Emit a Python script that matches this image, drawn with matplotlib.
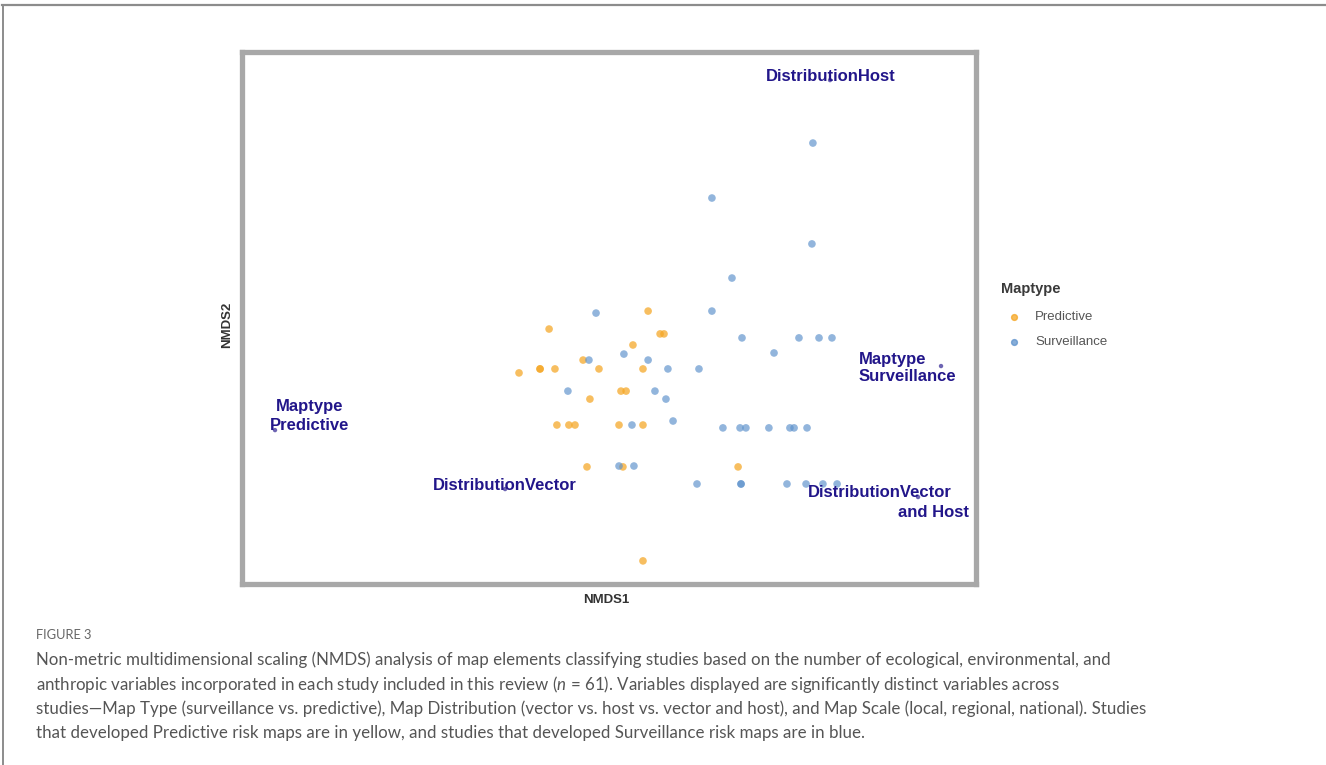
import matplotlib
matplotlib.use("Agg")
import matplotlib.pyplot as plt
from matplotlib.lines import Line2D

plt.rcParams["font.family"] = ["Liberation Sans", "DejaVu Sans"]
plt.rcParams["mathtext.fontset"] = "custom"
plt.rcParams["mathtext.rm"] = "Lato"
plt.rcParams["mathtext.it"] = "Lato:italic"

# NMDS site scores, by map type
pred_x = [0.161, -0.244, 0.210, 0.226, 0.099, -0.105, -0.367, -0.281, -0.281,
          -0.220, -0.040, 0.140, 0.050, 0.071, -0.077, -0.212, -0.163, -0.138,
          0.042, 0.140, -0.089, 0.058, 0.529, 0.140]
pred_y = [0.029, -0.052, -0.074, -0.074, -0.124, -0.192, -0.250, -0.232, -0.232,
          -0.232, -0.232, -0.232, -0.332, -0.332, -0.368, -0.485, -0.485, -0.485,
          -0.485, -0.485, -0.674, -0.674, -0.674, -1.098]

surv_x = [0.835, 0.422, 0.831, 0.504, 0.422, -0.052, 0.545, 0.778, 0.860, 0.913,
          0.676, -0.081, 0.062, 0.161, 0.242, 0.369, -0.167, 0.189, 0.234, 0.263,
          0.095, 0.467, 0.537, 0.561, 0.655, 0.741, 0.758, 0.811, 0.042, 0.103,
          0.361, 0.541, 0.541, 0.729, 0.807, 0.876, 0.934]
surv_y = [0.787, 0.539, 0.332, 0.178, 0.029, 0.020, -0.092, -0.092, -0.092, -0.092,
          -0.160, -0.192, -0.165, -0.192, -0.232, -0.232, -0.332, -0.332, -0.368, -0.467,
          -0.485, -0.498, -0.498, -0.498, -0.498, -0.498, -0.498, -0.498, -0.670, -0.670,
          -0.751, -0.751, -0.751, -0.751, -0.751, -0.751, -0.751]

# Fitted factor centroids (envfit)
factor_names = ["DistributionHost", "Maptype\nSurveillance", "Maptype\nPredictive",
                "DistributionVector", "DistributionVector\nand Host"]
factor_x = [0.905, 1.359, -1.365, -0.424, 1.265]
factor_y = [1.071, -0.219, -0.508, -0.774, -0.810]

legend_title = "Maptype"
legend_labels = ["Predictive", "Surveillance"]

caption_head = "FIGURE 3"
caption_lines = [
    "Non-metric multidimensional scaling (NMDS) analysis of map elements classifying studies based on the number of ecological, environmental, and",
    "anthropic variables incorporated in each study included in this review ($n$ = 61). Variables displayed are significantly distinct variables across",
    "studies\u2014Map Type (surveillance vs. predictive), Map Distribution (vector vs. host vs. vector and host), and Map Scale (local, regional, national). Studies",
    "that developed Predictive risk maps are in yellow, and studies that developed Surveillance risk maps are in blue.",
]

W, H = 1326, 765
fig = plt.figure(figsize=(W / 100, H / 100), dpi=100)
fig.patch.set_facecolor("white")

ax = fig.add_axes([242 / W, 1 - 583.5 / H, 733.5 / W, 532 / H])
ax.set_xlim(-1.5, 1.5)
ax.set_ylim(-1.2, 1.2)
ax.set_xticks([])
ax.set_yticks([])
for sp in ax.spines.values():
    sp.set_linewidth(3.8)
    sp.set_color("#a8a8a8")

c_pred = "#F5A623"
c_surv = "#5E92CC"
ax.scatter(pred_x, pred_y, s=30, color=c_pred, alpha=0.72, edgecolors="none", zorder=3)
ax.scatter(surv_x, surv_y, s=30, color=c_surv, alpha=0.68, edgecolors="none", zorder=3)

navy = "#22168a"
ax.scatter(factor_x, factor_y, s=10, color="#4a3fa0", alpha=0.8, edgecolors="none", zorder=4)

# label placement: (offset px, ha) per line
placements = [
    [("DistributionHost", (1, 4), "center")],
    [("Maptype", (-82, 7), "left"), ("Surveillance", (-82, -10), "left")],
    [("Maptype", (1, 24), "left"), ("Predictive", (-5, 5), "left")],
    [("DistributionVector", (0, 4), "center")],
    [("DistributionVector", (-38, 5), "center"), ("and Host", (15, -15), "center")],
]
for (fx, fy), items in zip(zip(factor_x, factor_y), placements):
    for txt, (dx, dy), ha in items:
        ax.annotate(txt, xy=(fx, fy), xytext=(dx, dy), textcoords="offset pixels",
                    ha=ha, va="center", fontsize=12, fontweight="bold",
                    color=navy, zorder=5)

fig.text(606 / W, 1 - 600 / H, "NMDS1", ha="center", va="center",
         fontsize=9.5, fontweight="bold", color="#333333")
fig.text(227 / W, 1 - 325 / H, "NMDS2", ha="center", va="center", rotation=90,
         fontsize=9.5, fontweight="bold", color="#333333")

# legend
fig.text(1001 / W, 1 - 289 / H, legend_title, ha="left", va="center",
         fontsize=10.5, fontweight="bold", color="#3a3a3a")
for i, (lab, col) in enumerate(zip(legend_labels, [c_pred, c_surv])):
    yy = 1 - (317 + 25 * i) / H
    fig.add_artist(Line2D([1014 / W], [yy], marker="o", markersize=4.2,
                          color=col, alpha=0.75, linestyle="none"))
    fig.text(1035 / W, yy, lab, ha="left", va="center", fontsize=9.5, color="#555555")

# outer frame (top and left rules)
fig.add_artist(Line2D([2 / W, 1.0], [1 - 5 / H, 1 - 5 / H], color="#8c8c8c", linewidth=1.6))
fig.add_artist(Line2D([2.5 / W, 2.5 / W], [0, 1 - 5 / H], color="#8c8c8c", linewidth=1.4))

# caption
fig.text(36 / W, 1 - 635 / H, caption_head, ha="left", va="center",
         fontsize=9.3, color="#666666", family=["Lato", "DejaVu Sans"])
for i, line in enumerate(caption_lines):
    fig.text(36 / W, 1 - (660 + 24.3 * i) / H, line, ha="left", va="center",
             fontsize=12.2, color="#555555", family=["Lato", "DejaVu Sans"])

fig.savefig("out.png", dpi=100, facecolor="white")
